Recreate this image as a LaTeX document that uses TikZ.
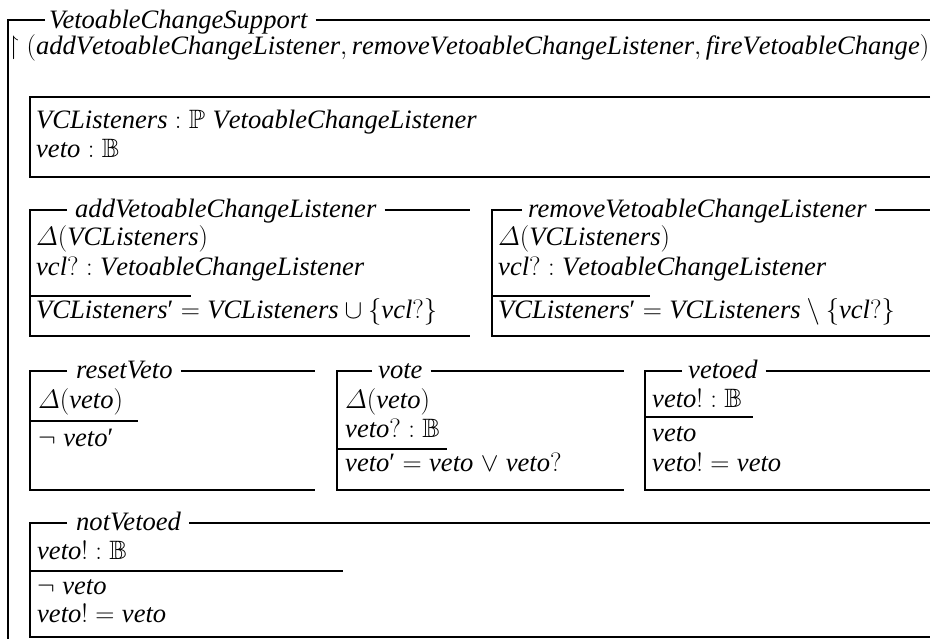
\RequirePackage{fix-cm}
\documentclass[tikz,border=0pt]{standalone}
\usepackage{amsmath,amssymb}
\usepackage{fontspec}
\setmainfont{Liberation Serif}
\usetikzlibrary{calc}
\newlength\zwidth
\newcommand\zsize{27}
\newcommand\zfont{\fontsize{\zsize}{30}\selectfont}
\newcommand\zid[1]{\mathit{#1}}
\newcommand\zpr{\text{\upshape ′}}
\newcommand\zvis{$\upharpoonright(\zid{addVetoableChangeListener}, \zid{removeVetoableChangeListener}, \zid{fireVetoableChange})$}
\tikzset{
  zline/.style={line width=2.8pt, line join=miter},
  ztitle/.style={anchor=base west, inner sep=0pt, font=\zfont\itshape},
  zrow/.style={anchor=base west, inner sep=0pt, font=\zfont},
}
% #1 name, #2 title, #3 left, #4 top, #5 right, #6 bottom, #7 dash end, #8 title x
\newcommand\zschema[8]{%
  \node[ztitle] (#1) at (#8,#4+7) {#2};
  \coordinate (#1-tr) at (#5,#4);
  \draw[zline] (#7,#4) -- (#3,#4) -- (#3,#6) -- (#5,#6);
  \draw[zline] ($(#1.east |- #1-tr)+(8,0)$) -- (#1-tr);
}
\begin{document}
\begin{tikzpicture}[x=1pt,y=-1pt]
\settowidth\zwidth{\fontsize{27}{30}\selectfont\zvis}
\pgfmathsetmacro\zsizecalc{27*(921/\zwidth)}
\let\zsize\zsizecalc
\useasboundingbox (0,0) rectangle (944,638);
% outer class schema
\node[ztitle] (cls) at (49,28) {VetoableChangeSupport};
\coordinate (cls-tr) at (930,20);
\draw[zline] (45,20) -- (8,20) -- (8,645);
\draw[zline] ($(cls.east |- cls-tr)+(8,0)$) -- (cls-tr);
\node[zrow] (vis) at (8,54) {\zvis};
% state schema
\draw[zline] (930,97) -- (30,97) -- (30,177) -- (930,177);
\node[zrow] (s1) at (36,128) {$\zid{VCListeners} : \mathbb{P}\;\zid{VetoableChangeListener}$};
\node[zrow] (s2) at (36,157) {$\zid{veto} : \mathbb{B}$};
% addVetoableChangeListener
\zschema{add}{addVetoableChangeListener}{30}{210}{470}{336}{67}{75}
\node[zrow] (a1) at (36,245) {$\varDelta(\zid{VCListeners})$};
\node[zrow] (a2) at (36,275) {$\zid{vcl}? : \zid{VetoableChangeListener}$};
\draw[zline] (30,296) -- (191,296);
\node[zrow] (a3) at (36,318) {$\zid{VCListeners}\zpr = \zid{VCListeners} \cup \{\zid{vcl}?\}$};
% removeVetoableChangeListener
\zschema{rem}{removeVetoableChangeListener}{492}{210}{930}{336}{522}{528}
\node[zrow] (r1) at (498,245) {$\varDelta(\zid{VCListeners})$};
\node[zrow] (r2) at (498,275) {$\zid{vcl}? : \zid{VetoableChangeListener}$};
\draw[zline] (492,296) -- (650,296);
\node[zrow] (r3) at (498,318) {$\zid{VCListeners}\zpr = \zid{VCListeners} \setminus \{\zid{vcl}?\}$};
% resetVeto
\zschema{rst}{resetVeto}{30}{371}{315}{490}{67}{76}
\node[zrow] (rv1) at (38,408) {$\varDelta(\zid{veto})$};
\draw[zline] (30,421) -- (138,421);
\node[zrow] (rv2) at (38,446) {$\lnot\;\zid{veto}\zpr$};
% vote
\zschema{vot}{vote}{337}{371}{624}{490}{372}{378}
\node[zrow] (v1) at (345,408) {$\varDelta(\zid{veto})$};
\node[zrow] (v2) at (345,437) {$\zid{veto}? : \mathbb{B}$};
\draw[zline] (337,449) -- (447,449);
\node[zrow] (v3) at (345,471) {$\zid{veto}\zpr = \zid{veto} \mathrel{\lor} \zid{veto}?$};
% vetoed
\zschema{vtd}{vetoed}{645}{371}{930}{490}{682}{688}
\node[zrow] (d1) at (652,407) {$\zid{veto}! : \mathbb{B}$};
\draw[zline] (645,417) -- (753,417);
\node[zrow] (d2) at (652,441) {$\zid{veto}$};
\node[zrow] (d3) at (652,471) {$\zid{veto}! = \zid{veto}$};
% notVetoed
\zschema{nvt}{notVetoed}{30}{523}{930}{637}{67}{76}
\node[zrow] (n1) at (37,559) {$\zid{veto}! : \mathbb{B}$};
\draw[zline] (30,571) -- (343,571);
\node[zrow] (n2) at (37,594) {$\lnot\;\zid{veto}$};
\node[zrow] (n3) at (37,622) {$\zid{veto}! = \zid{veto}$};
\end{tikzpicture}
\end{document}
